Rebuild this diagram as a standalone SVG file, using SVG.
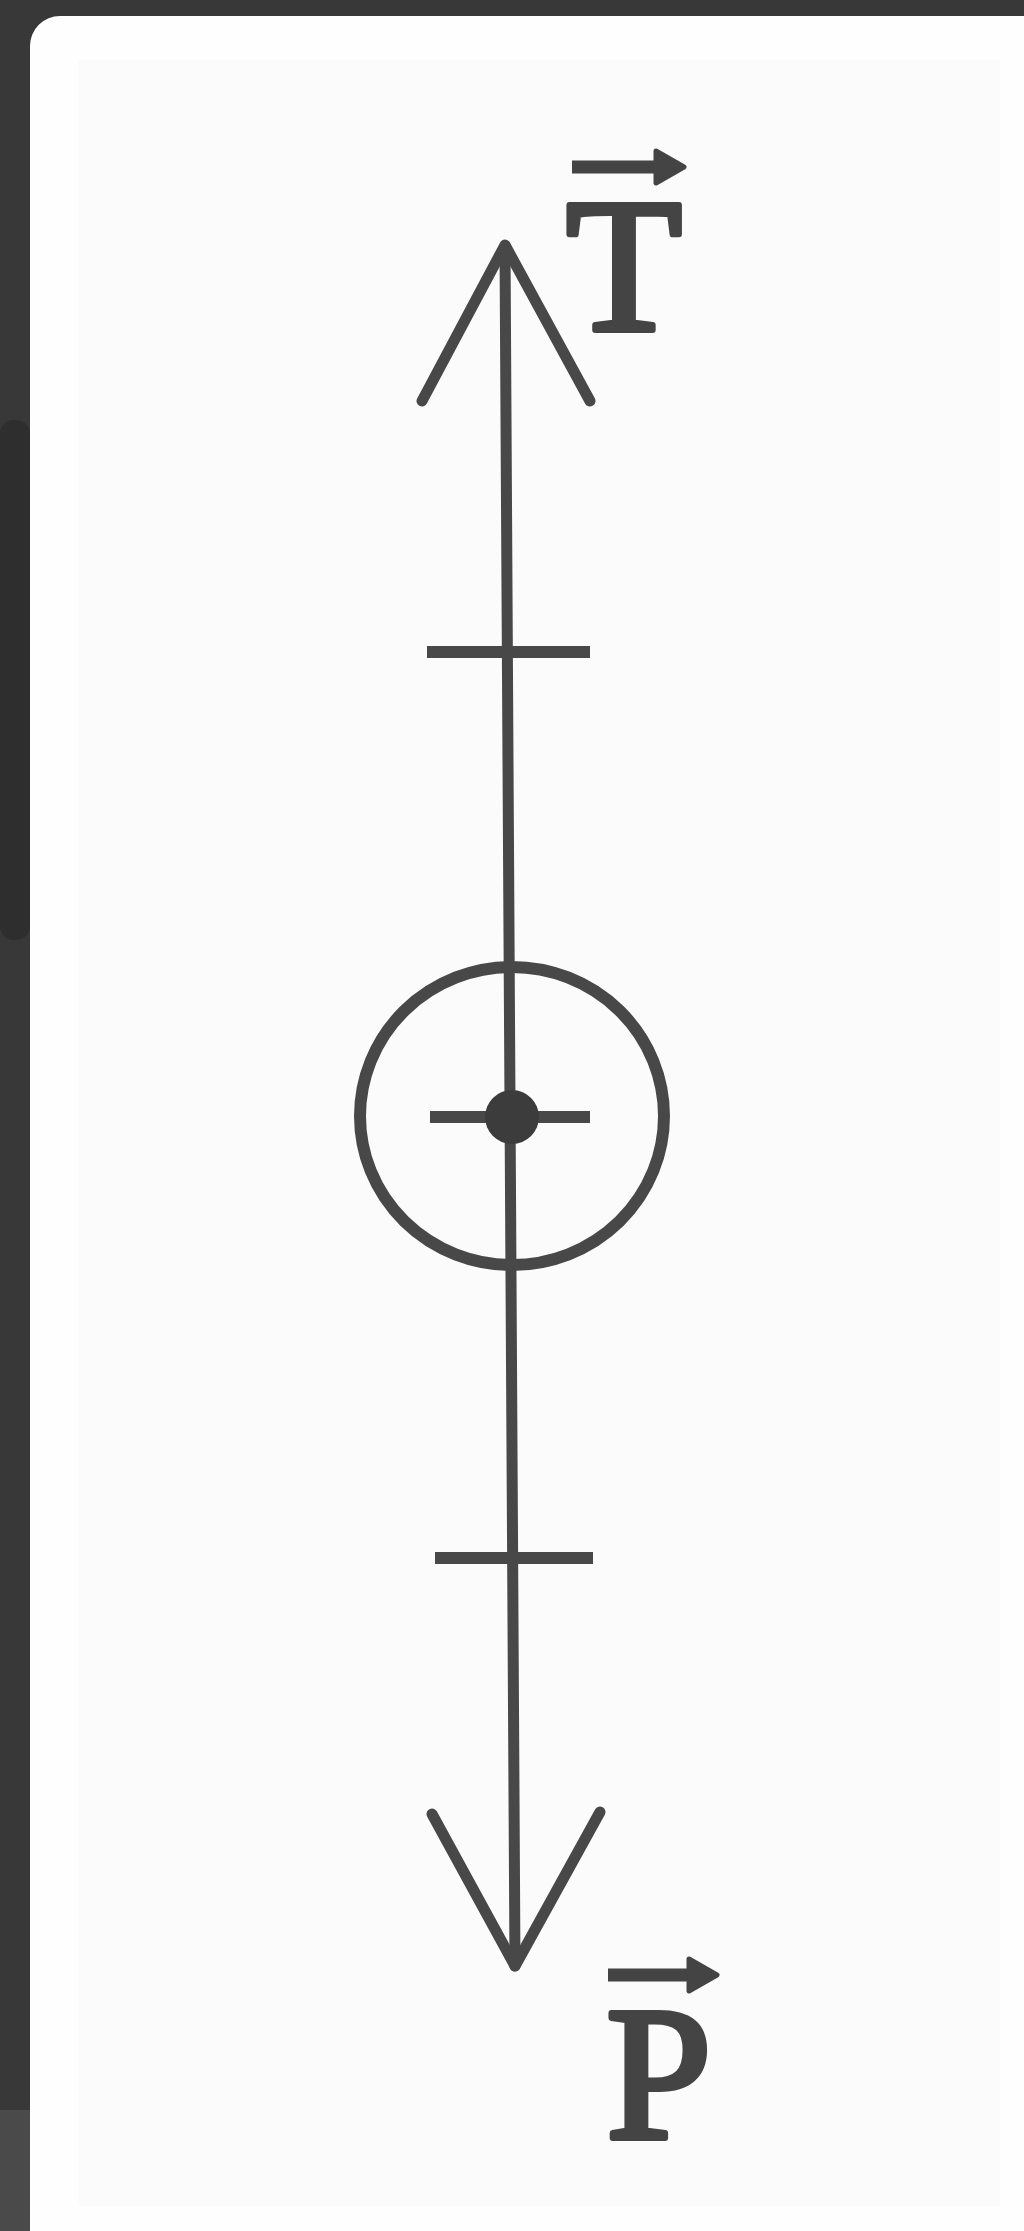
<svg xmlns="http://www.w3.org/2000/svg" width="1024" height="2231" viewBox="0 0 1024 2231">
  <style>
    .ln { stroke: #484848; stroke-width: 11; fill: none; stroke-linecap: round; stroke-linejoin: round; }
    .tick { stroke: #484848; stroke-width: 12; fill: none; stroke-linecap: butt; }
    .lbl { font-family: "Liberation Serif", "Times New Roman", serif; font-size: 190px; fill: #444444; stroke: #444444; stroke-width: 6; stroke-linejoin: round; }
    .vec { stroke: #444444; stroke-width: 13; fill: none; stroke-linecap: butt; }
    .vechead { fill: #444444; stroke: #444444; stroke-width: 5; stroke-linejoin: round; }
  </style>

  <!-- background frame -->
  <g id="background">
    <rect x="0" y="0" width="1024" height="2231" fill="#383838"/>
    <rect x="0" y="420" width="30" height="520" rx="14" fill="#2e2e2e"/>
    <rect x="0" y="2110" width="30" height="121" fill="#4a4a4a"/>
    <rect x="30" y="16" width="1030" height="2260" rx="30" fill="#fefefe"/>
    <rect x="78" y="60" width="922" height="2146" fill="#fbfbfc"/>
  </g>

  <!-- connectors -->
  <g id="connectors">
    <line class="ln" x1="505" y1="246" x2="515" y2="1966"/>
    <polyline class="ln" points="422,401 505,245 590,401"/>
    <polyline class="ln" points="432,1814 515,1966 600,1812"/>
  </g>

  <g id="tick-upper">
    <line class="tick" x1="427" y1="652" x2="590" y2="652"/>
  </g>

  <g id="body">
    <ellipse cx="512" cy="1116" rx="152" ry="149" fill="none" stroke="#484848" stroke-width="12"/>
    <line class="tick" x1="430" y1="1117" x2="590" y2="1117"/>
    <circle cx="512" cy="1117" r="27" fill="#3c3c3c"/>
  </g>

  <g id="tick-lower">
    <line class="tick" x1="435" y1="1558" x2="593" y2="1558"/>
  </g>

  <g id="label-T">
    <line class="vec" x1="572" y1="167" x2="660" y2="167"/>
    <polygon class="vechead" points="656,151 684,167 656,183"/>
    <text class="lbl" x="566" y="330">T</text>
  </g>

  <g id="label-P">
    <line class="vec" x1="608" y1="1975" x2="692" y2="1975"/>
    <polygon class="vechead" points="689,1959 717,1975 689,1991"/>
    <text class="lbl" x="606" y="2138">P</text>
  </g>
</svg>
